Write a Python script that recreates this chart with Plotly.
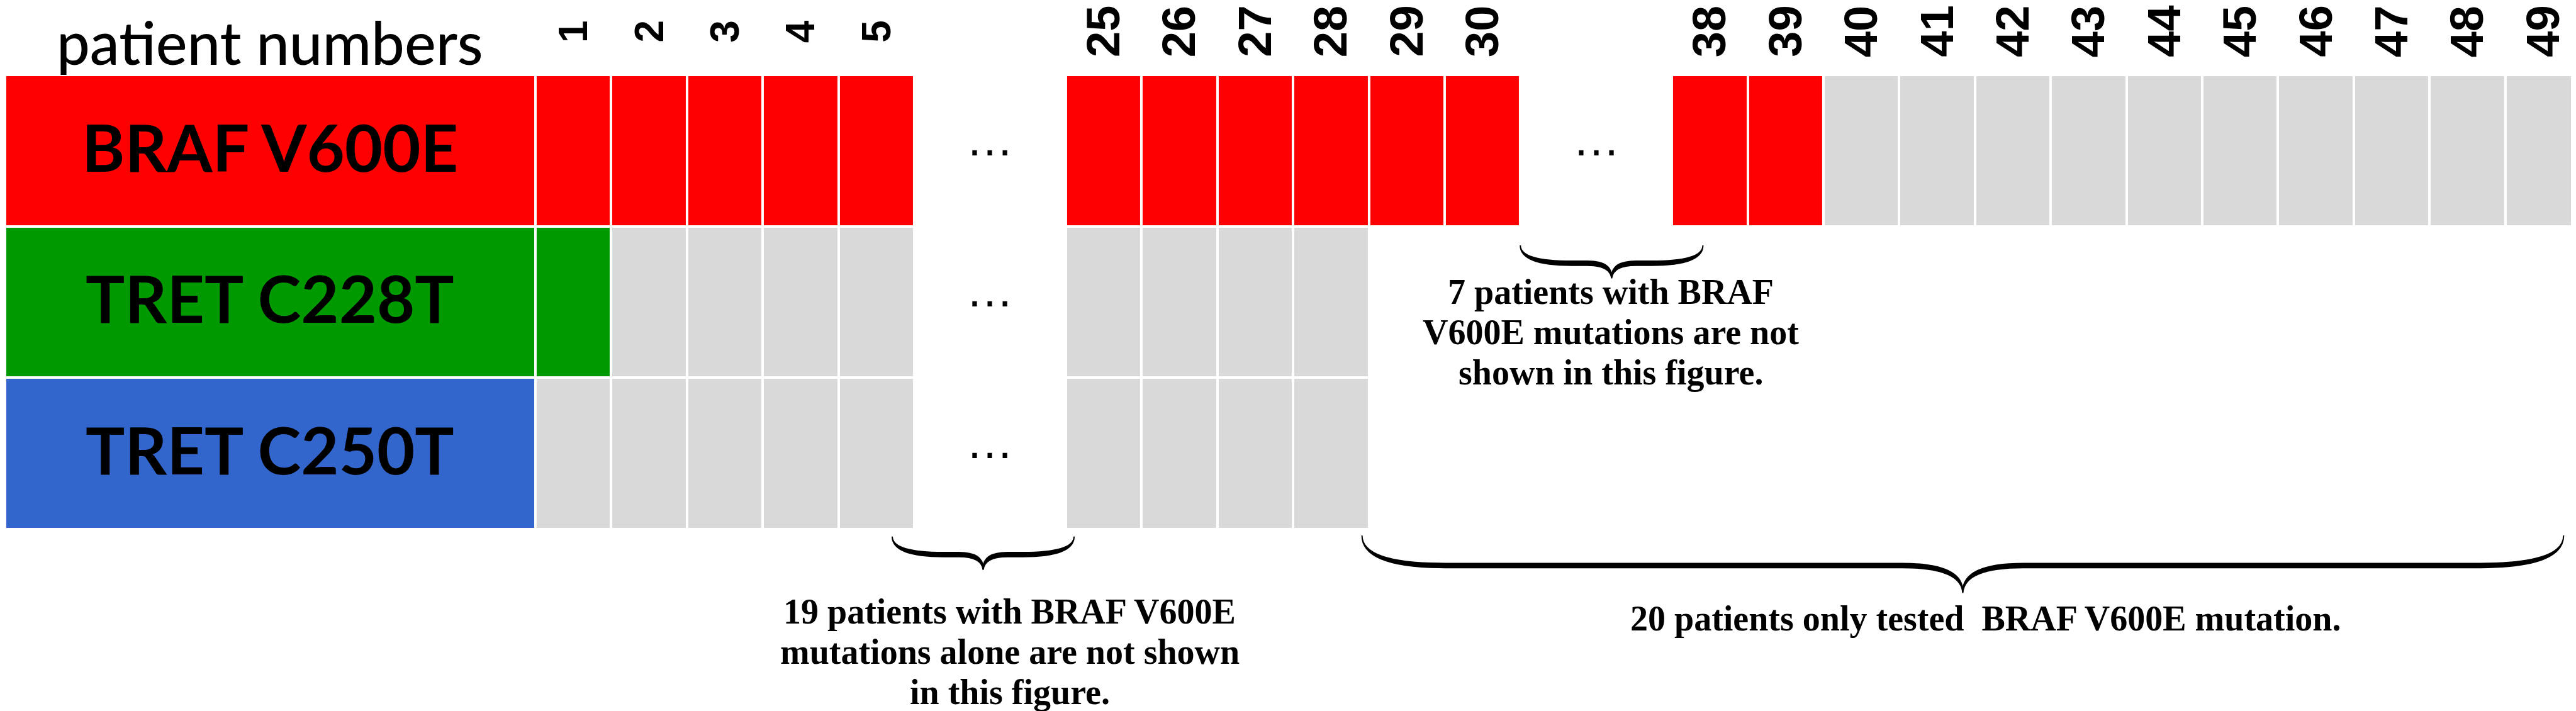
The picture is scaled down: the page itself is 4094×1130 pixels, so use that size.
import plotly.graph_objects as go

# ---- data ----
genes = ["BRAF V600E", "TRET C228T", "TRET C250T"]
gene_colors = ["#FF0000", "#009900", "#3366CC"]
wild_color = "#D9D9D9"

patients = [1, 2, 3, 4, 5, 25, 26, 27, 28, 29, 30, 38, 39,
            40, 41, 42, 43, 44, 45, 46, 47, 48, 49]

# 1 = mutation, 0 = wild type, None = not tested
braf_v600e = [1, 1, 1, 1, 1, 1, 1, 1, 1, 1, 1, 1, 1,
              0, 0, 0, 0, 0, 0, 0, 0, 0, 0]
tret_c228t = [1, 0, 0, 0, 0, 0, 0, 0, 0, None, None, None, None,
              None, None, None, None, None, None, None, None, None, None]
tret_c250t = [0, 0, 0, 0, 0, 0, 0, 0, 0, None, None, None, None,
              None, None, None, None, None, None, None, None, None, None]
status = [braf_v600e, tret_c228t, tret_c250t]

notes = [
    ["19 patients with BRAF V600E", "mutations alone are not shown", "in this figure."],
    ["7 patients with BRAF", "V600E mutations are not", "shown in this figure."],
    ["20 patients only tested \u00a0BRAF V600E mutation."],
]

# ---- layout constants (slot units on x, row units on y) ----
label_w = 7        # width of the gene label column
gap_w = 2          # empty slots where patients are skipped
W, H = 4094, 1130
px_y = 240.6       # pixels per row
y_top_px = 111     # pixel position of the first row edge

# slot position of each patient column
slots = []
pos = label_w
for i, p in enumerate(patients):
    if i > 0 and p != patients[i - 1] + 1:
        pos += gap_w
    slots.append(pos)
    pos += 1
n_slots = pos

# full grid of columns, gaps left empty
grid = list(range(label_w, n_slots))
z = []
for r, row in enumerate(status):
    zr = [None] * len(grid)
    for s, v in zip(slots, row):
        if v is not None:
            zr[s - label_w] = v * (r + 1)
    z.append(zr)

# codes 0..3 -> grey, red, green, blue
cscale = [[0, wild_color], [1 / 6, wild_color],
          [1 / 6, gene_colors[0]], [0.5, gene_colors[0]],
          [0.5, gene_colors[1]], [5 / 6, gene_colors[1]],
          [5 / 6, gene_colors[2]], [1, gene_colors[2]]]

fig = go.Figure()

# gene label blocks
fig.add_trace(go.Heatmap(
    x=[0, label_w], y=list(range(len(genes) + 1)),
    z=[[r + 1] for r in range(len(genes))],
    zmin=0, zmax=3, colorscale=cscale, showscale=False,
    xgap=4, ygap=4, hoverinfo="skip"))

# patient cells
fig.add_trace(go.Heatmap(
    x=grid + [n_slots], y=list(range(len(genes) + 1)), z=z,
    zmin=0, zmax=3, colorscale=cscale, showscale=False,
    xgap=4, ygap=4, hoverinfo="skip"))

ann = []
for r, g in enumerate(genes):
    ann.append(dict(x=label_w / 2, y=r + 0.47, text=g, showarrow=False,
                    font=dict(family="Lato", size=104, color="black", weight="bold")))

ann.append(dict(x=label_w / 2, y=1, yref="paper", yanchor="top", text="patient numbers",
                showarrow=False, font=dict(family="Lato", size=94, color="black", weight=500)))

for s, p in zip(slots, patients):
    ann.append(dict(x=s + 0.5, y=-0.287, text=str(p), textangle=-90, showarrow=False,
                    font=dict(family="Liberation Sans", size=64 if p < 10 else 74,
                              color="black", weight="bold")))

# ellipsis in each gap where the row continues on both sides
for i in range(1, len(patients)):
    if slots[i] - slots[i - 1] > 1:
        xc = (slots[i - 1] + 1 + slots[i]) / 2
        for r, row in enumerate(status):
            if row[i - 1] is not None and row[i] is not None:
                ann.append(dict(x=xc, y=r + 0.42, text="\u2026", showarrow=False,
                                font=dict(family="Liberation Sans", size=76, color="black")))

# note text: centre x, centre y of the middle line
note_pos = [(13.26, 3.811), (21.19, 1.70), (26.14, 3.591)]
line_step = 64 / px_y
for (nx, ny), lines in zip(note_pos, notes):
    y0 = ny - line_step * (len(lines) - 1) / 2
    for k, t in enumerate(lines):
        ann.append(dict(x=nx, y=y0 + k * line_step, text=t, showarrow=False,
                        font=dict(family="Liberation Serif", size=56, color="black",
                                  weight="bold")))


def brace(x0, x1, y0, y1, r_end, r_mid, t=0.028):
    """curly brace opening upward, tips at y0, point at y1 (data units)"""
    c = (x0 + x1) / 2
    m = (y0 + y1) / 2
    up = (f"M {x0},{y0} Q {x0},{m} {x0 + r_end},{m} L {c - r_mid},{m} "
          f"Q {c},{m} {c},{y1} Q {c},{m} {c + r_mid},{m} L {x1 - r_end},{m} "
          f"Q {x1},{m} {x1},{y0} ")
    lo = (f"Q {x1},{m + t} {x1 - r_end},{m + t} L {c + r_mid},{m + t} "
          f"Q {c + 0.02},{m + t} {c},{y1 + 0.01} Q {c - 0.02},{m + t} {c - r_mid},{m + t} "
          f"L {x0 + r_end},{m + t} Q {x0},{m + t} {x0},{y0} Z")
    return dict(type="path", path=up + lo, xref="x", yref="y",
                fillcolor="black", line=dict(color="black", width=2))


shapes = [
    brace(11.71, 14.11, 3.05, 3.26, 0.68, 0.32),
    brace(20.0, 22.41, 1.126, 1.334, 0.68, 0.32),
    brace(17.91, 33.77, 3.042, 3.412, 1.1, 0.8),
]

y_lo = -y_top_px / px_y
y_hi = (H - y_top_px) / px_y

fig.update_layout(
    width=W, height=H,
    margin=dict(l=0, r=0, t=0, b=0),
    paper_bgcolor="white", plot_bgcolor="white",
    xaxis=dict(range=[0, n_slots], visible=False, fixedrange=True),
    yaxis=dict(range=[y_hi, y_lo], visible=False, fixedrange=True),
    annotations=ann, shapes=shapes, showlegend=False,
)

fig.write_html("out.html")
